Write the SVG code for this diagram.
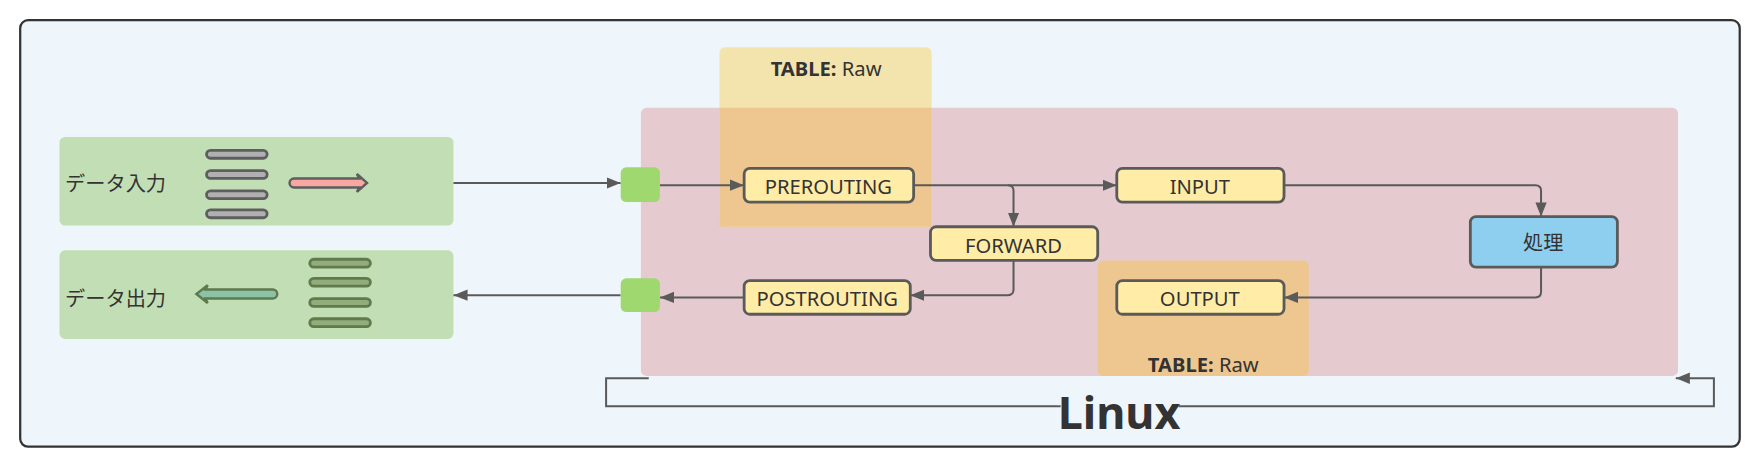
<svg xmlns="http://www.w3.org/2000/svg" width="1760" height="467" viewBox="0 0 1760 467">
<defs>
<style>
.n{fill:#ffeca6;stroke:#5a5a5a;stroke-width:2.5}
.t{font-family:"Noto Sans","Noto Sans CJK JP",sans-serif;font-size:18px;fill:#333;text-anchor:middle}
.c{fill:none;stroke:#5a5a5a;stroke-width:1.8}
.gb{fill:#b0b0b0;stroke:#5e5e5e;stroke-width:2.5}
.gg{fill:#93ac7c;stroke:#5f7a4c;stroke-width:2.5}
</style>
<marker id="a" viewBox="0 0 10 10" refX="10" refY="5" markerWidth="7" markerHeight="7" orient="auto-start-reverse"><path d="M0,1L10,5L0,9z" fill="#5a5a5a"/></marker>
</defs>
<g transform="scale(1.1224)">
<rect x="18" y="18" width="1532" height="380" rx="7" fill="#eef6fb" stroke="#333" stroke-width="2"/>
<g id="input-box">
<rect x="53" y="122" width="351" height="79" rx="5" fill="#c2deb4"/>
<text x="58" y="170" font-family="'Noto Sans CJK JP',sans-serif" font-size="18" fill="#333">データ入力</text>
<rect class="gb" x="184" y="134" width="54" height="7" rx="3.5"/><rect class="gb" x="184" y="152" width="54" height="7" rx="3.5"/><rect class="gb" x="184" y="170" width="54" height="7" rx="3.5"/><rect class="gb" x="184" y="187" width="54" height="7" rx="3.5"/>
<path d="M262,159H320L318,155L327,163L318,171L320,167H262A4,4 0 0 1 262,159Z" fill="#f8a8a0" stroke="#5e5e5e" stroke-width="2.2"/>
</g>
<g id="output-box">
<rect x="53" y="223" width="351" height="79" rx="5" fill="#c2deb4"/>
<text x="58" y="273" font-family="'Noto Sans CJK JP',sans-serif" font-size="18" fill="#333">データ出力</text>
<rect class="gg" x="276" y="231" width="54" height="7" rx="3.5"/><rect class="gg" x="276" y="248" width="54" height="7" rx="3.5"/><rect class="gg" x="276" y="266" width="54" height="7" rx="3.5"/><rect class="gg" x="276" y="284" width="54" height="7" rx="3.5"/>
<path d="M243,258H183L185,254L175,262L185,270L183,266H243A4,4 0 0 0 243,258Z" fill="#8cc3a8" stroke="#5f7a4c" stroke-width="2.2"/>
</g>
<g id="linux">
<rect x="571" y="96" width="924" height="239" rx="5" fill="#e5cbd0"/>
<path d="M578,337H540V362H945M1050,362H1527V337H1493" class="c" marker-end="url(#a)"/>
<text x="997" y="382" font-family="'Noto Sans',sans-serif" font-size="40" font-weight="bold" fill="#333" text-anchor="middle">Linux</text>
</g>
<g id="raw-top">
<rect x="641" y="42" width="189" height="160" rx="5" fill="#f3e4ae"/>
<rect x="641" y="96" width="189" height="106" fill="#edc690"/>
<text x="736" y="68" class="t" font-size="17"><tspan font-weight="bold">TABLE:</tspan>   Raw</text>
</g>
<g id="raw-bottom">
<rect x="978" y="232" width="188" height="103" rx="5" fill="#edc690"/>
<text x="1072" y="331" class="t" font-size="17"><tspan font-weight="bold">TABLE:</tspan>   Raw</text>
</g>
<g id="connectors">
<path class="c" d="M404,163H553" marker-end="url(#a)"/>
<path class="c" d="M588,165H663" marker-end="url(#a)"/>
<path class="c" d="M814,165H995" marker-end="url(#a)"/>
<path class="c" d="M898,165Q903,165 903,170V202" marker-end="url(#a)"/>
<path class="c" d="M1144,165H1368Q1373,165 1373,170V193" marker-end="url(#a)"/>
<path class="c" d="M1373,238V260Q1373,265 1368,265H1144" marker-end="url(#a)"/>
<path class="c" d="M903,232V258Q903,263 898,263H811" marker-end="url(#a)"/>
<path class="c" d="M663,265H588" marker-end="url(#a)"/>
<path class="c" d="M553,263H404" marker-end="url(#a)"/>
</g>
<g id="port-in"><rect x="553" y="149" width="35" height="31" rx="5" fill="#a0d870"/></g>
<g id="port-out"><rect x="553" y="248" width="35" height="30" rx="5" fill="#a0d870"/></g>
<g id="prerouting"><rect class="n" x="663" y="150" width="151" height="30" rx="5"/><text class="t" x="738" y="173">PREROUTING</text></g>
<g id="inputn"><rect class="n" x="995" y="150" width="149" height="30" rx="5"/><text class="t" x="1069" y="173">INPUT</text></g>
<g id="forward"><rect class="n" x="829" y="202" width="149" height="30" rx="5"/><text class="t" x="903" y="225">FORWARD</text></g>
<g id="process"><rect x="1310" y="193" width="131" height="45" rx="5" fill="#8ecff0" stroke="#5a5a5a" stroke-width="2.5"/><text class="t" x="1375" y="223">処理</text></g>
<g id="outputn"><rect class="n" x="995" y="250" width="149" height="30" rx="5"/><text class="t" x="1069" y="273">OUTPUT</text></g>
<g id="postrouting"><rect class="n" x="663" y="250" width="148" height="30" rx="5"/><text class="t" x="737" y="273">POSTROUTING</text></g>
</g>
</svg>
